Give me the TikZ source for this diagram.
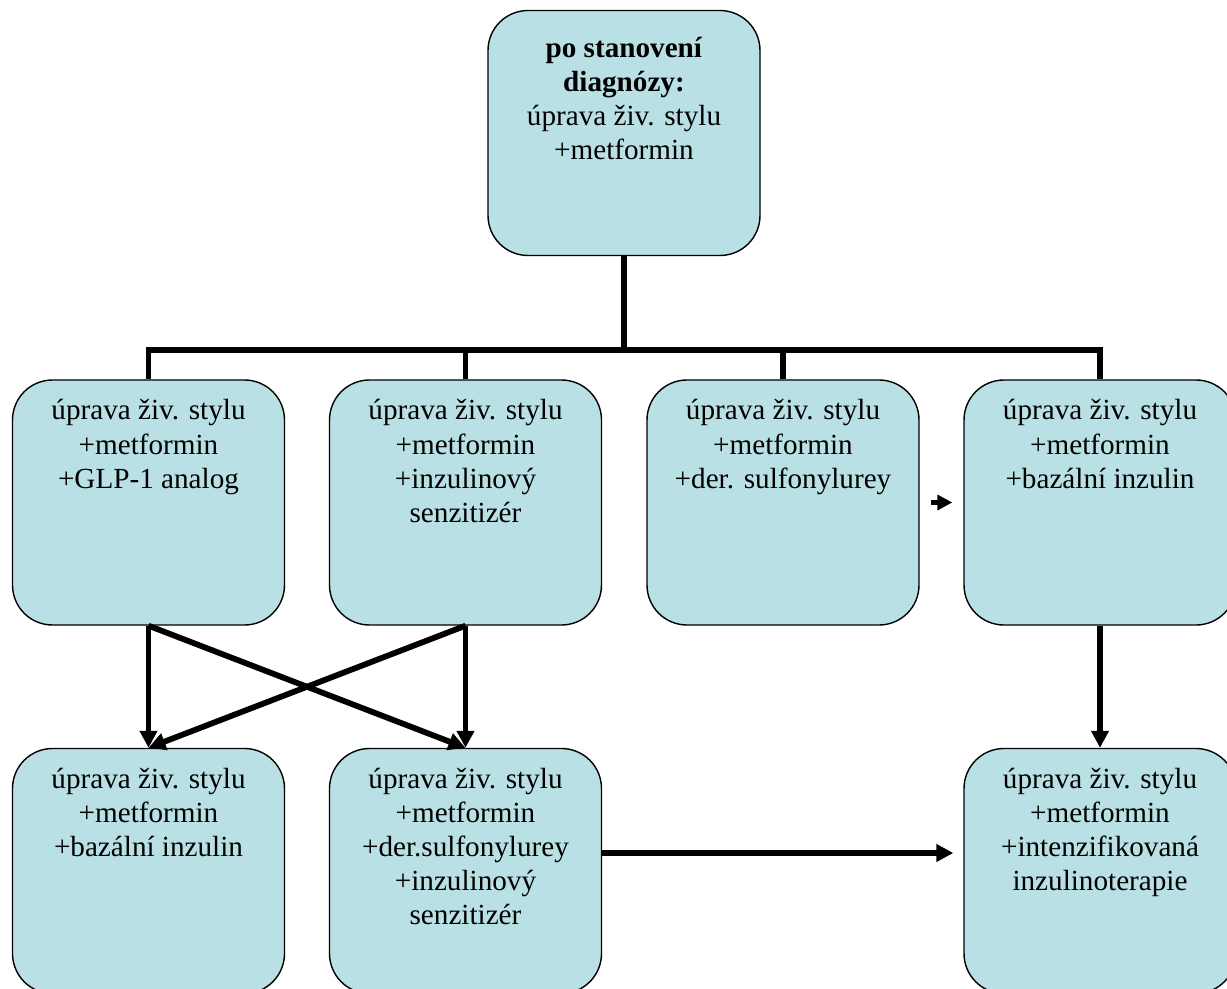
\documentclass[tikz,border=0pt]{standalone}
\usepackage{fontspec}
\setmainfont{Liberation Serif}
\usepackage{xcolor}
\usetikzlibrary{positioning, arrows.meta}

\definecolor{boxfill}{RGB}{185,224,228}

\begin{document}
\begin{tikzpicture}[
        boxshape/.style={draw=black, line width=0.8pt, fill=boxfill, rounded corners=0.8cm,
            minimum width=5.44cm, minimum height=4.9cm, inner sep=0pt},
        boxlabel/.style={anchor=north, align=center, inner sep=0pt, yshift=-0.4cm,
            font=\fontsize{16.6}{19.4}\selectfont},
        box/.style={boxshape, label={[boxlabel]north:#1}},
        tree/.style={line width=3.3pt},
        arr/.style={line width=3.3pt, -{Triangle[length=0.34cm, width=0.34cm]}}
    ]
            \useasboundingbox (0, 0) rectangle (24.54, -19.78);

            % top
            \node[boxshape, label={[boxlabel, yshift=-0.14cm]north:\textbf{po stanovení}\\ \textbf{diagnózy:}\\úprava živ. stylu\\+metformin}] (top) at (12.48, -2.66) {};

            % second row
            \node[box={úprava živ. stylu\\+metformin\\+GLP-1 analog}] (r1) at (2.97, -10.05) {};
            \node[box={úprava živ. stylu\\+metformin\\+inzulinový\\senzitizér}] (r2) at (9.31, -10.05) {};
            \node[box={úprava živ. stylu\\+metformin\\+der. sulfonylurey}] (r3) at (15.66, -10.05) {};
            \node[box={úprava živ. stylu\\+metformin\\+bazální inzulin}] (r4) at (22.0, -10.05) {};

            % third row
            \node[box={úprava živ. stylu\\+metformin\\+bazální inzulin}] (s1) at (2.97, -17.42) {};
            \node[box={úprava živ. stylu\\+metformin\\+der.sulfonylurey\\+inzulinový\\senzitizér}] (s2) at (9.31, -17.42) {};
            \node[box={úprava živ. stylu\\+metformin\\+intenzifikovaná\\inzulinoterapie}] (s3) at (22.0, -17.42) {};

            \coordinate (fork) at (12.48, -7.0);
            \draw[tree] (top.south) -- (fork);
            \draw[tree] (r1.north) |- (fork) -| (r4.north);
            \draw[tree] (r2.north) -- (r2.north |- fork);
            \draw[tree] (r3.north) -- (r3.north |- fork);

            \draw[arr] (r1.south) -- (s1.north);
            \draw[arr] (r1.south) -- (s2.north);
            \draw[arr] (r2.south) -- (s1.north);
            \draw[arr] (r2.south) -- (s2.north);
            \draw[arr] (r4.south) -- (s3.north);
            \draw[line width=3.3pt, -{Triangle[length=0.3cm, width=0.3cm]}, shorten <=0.22cm, shorten >=0.22cm] (r3.east) -- (r4.west);
            \draw[arr, shorten >=0.2cm] ([yshift=0.36cm]s2.east) -- ([yshift=0.36cm]s3.west);
        \end{tikzpicture}
\end{document}
